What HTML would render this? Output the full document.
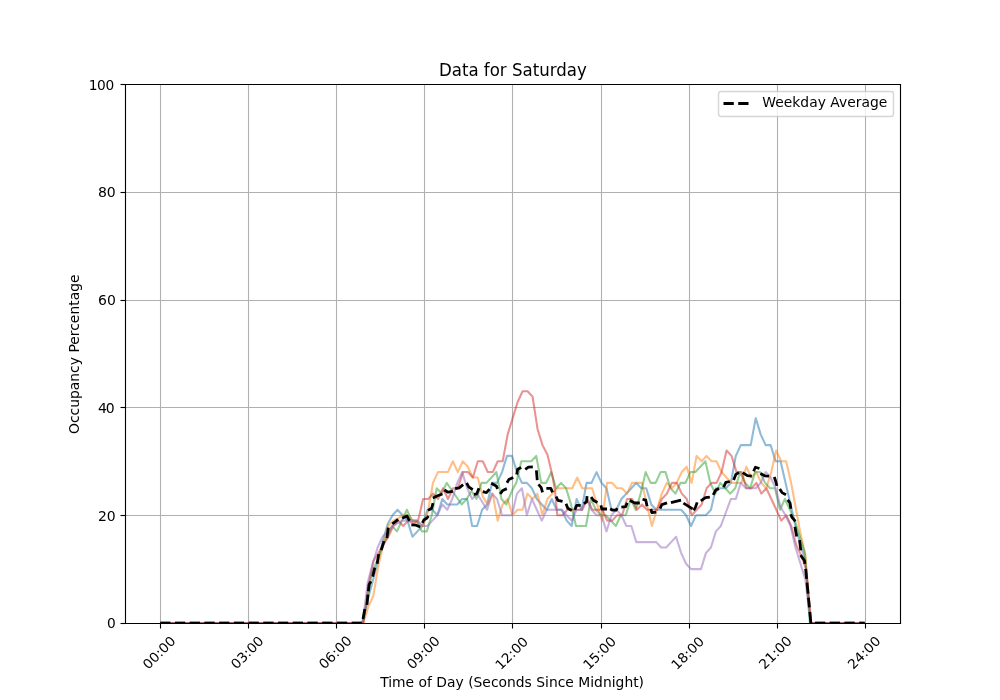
<!DOCTYPE html>
<html lang="en"><head><meta charset="utf-8"><title>Data for Saturday</title>
<style>html,body{margin:0;padding:0;background:#fff;overflow:hidden}svg{display:block}</style>
</head><body>
<svg width="1000" height="700" viewBox="0 0 1000 700">
<defs><clipPath id="ax"><rect x="125" y="84" width="775" height="539"/></clipPath></defs>
<rect width="1000" height="700" fill="#fff"/>
<g stroke="#b0b0b0" stroke-width="1.111" fill="none">
<path d="M160.5 623V84"/>
<path d="M248.5 623V84"/>
<path d="M336.5 623V84"/>
<path d="M424.5 623V84"/>
<path d="M512.5 623V84"/>
<path d="M601.5 623V84"/>
<path d="M689.5 623V84"/>
<path d="M777.5 623V84"/>
<path d="M865.5 623V84"/>
<path d="M125 623.5H900"/>
<path d="M125 515.5H900"/>
<path d="M125 407.5H900"/>
<path d="M125 300.5H900"/>
<path d="M125 192.5H900"/>
<path d="M125 84.5H900"/>
</g>
<g stroke="#000" stroke-width="1.111" fill="none">
<path d="M160.5 623.5v5"/>
<path d="M248.5 623.5v5"/>
<path d="M336.5 623.5v5"/>
<path d="M424.5 623.5v5"/>
<path d="M512.5 623.5v5"/>
<path d="M601.5 623.5v5"/>
<path d="M689.5 623.5v5"/>
<path d="M777.5 623.5v5"/>
<path d="M865.5 623.5v5"/>
<path d="M125.5 623.5h-5"/>
<path d="M125.5 515.5h-5"/>
<path d="M125.5 407.5h-5"/>
<path d="M125.5 300.5h-5"/>
<path d="M125.5 192.5h-5"/>
<path d="M125.5 84.5h-5"/>
</g>
<g font-family="DejaVu Sans, Liberation Sans, sans-serif" fill="#000">
<text id="xt0" transform="translate(148.29 669.99) rotate(-45) scale(1.0025 0.9550)" font-size="13.889" text-anchor="start">00:00</text>
<text id="xt1" transform="translate(236.48 669.86) rotate(-45) scale(0.9925 0.9650)" font-size="13.889" text-anchor="start">03:00</text>
<text id="xt2" transform="translate(324.42 669.86) rotate(-45) scale(0.9975 0.9700)" font-size="13.889" text-anchor="start">06:00</text>
<text id="xt3" transform="translate(412.49 669.99) rotate(-45) scale(1.0025 0.9650)" font-size="13.889" text-anchor="start">09:00</text>
<text id="xt4" transform="translate(500.75 670.55) rotate(-45) scale(0.9950 0.9525)" font-size="13.889" text-anchor="start">12:00</text>
<text id="xt5" transform="translate(588.75 670.49) rotate(-45) scale(1.0000 0.9700)" font-size="13.889" text-anchor="start">15:00</text>
<text id="xt6" transform="translate(676.69 670.61) rotate(-45) scale(1.0050 0.9550)" font-size="13.889" text-anchor="start" letter-spacing="-0.050">18:00</text>
<text id="xt7" transform="translate(764.51 669.99) rotate(-45) scale(1.0025 0.9650)" font-size="13.889" text-anchor="start">21:00</text>
<text id="xt8" transform="translate(853.33 669.99) rotate(-45) scale(1.0000 0.9525)" font-size="13.889" text-anchor="start">24:00</text>
<text id="yt0" transform="translate(115.78 627.78) scale(0.9900 0.9825)" font-size="13.889" text-anchor="end">0</text>
<text id="yt1" transform="translate(115.78 520.98) scale(1.0075 1.0350)" font-size="13.889" text-anchor="end">20</text>
<text id="yt2" transform="translate(113.78 412.68) scale(1.0100 1.0150)" font-size="13.889" text-anchor="end" letter-spacing="-1.000">40</text>
<text id="yt3" transform="translate(115.78 304.88) scale(1.0075 0.9550)" font-size="13.889" text-anchor="end">60</text>
<text id="yt4" transform="translate(115.78 196.58) scale(1.0125 1.0300)" font-size="13.889" text-anchor="end">80</text>
<text id="yt5" transform="translate(113.78 89.53) scale(0.9900 1.0300)" font-size="13.889" text-anchor="end" letter-spacing="-0.400">100</text>
<text id="xlabel" transform="translate(512.09 686.64) scale(1.0000 0.9975)" font-size="13.889" text-anchor="middle">Time of Day (Seconds Since Midnight)</text>
<text id="ylabel" transform="translate(78.82 354.25) rotate(-90) scale(1.0000 1.0075)" font-size="13.889" text-anchor="middle">Occupancy Percentage</text>
</g>
<g clip-path="url(#ax)" fill="none" stroke-linejoin="round">
<path d="M160.23 623.00 L362.72 623.00 L367.69 599.82 L372.67 581.50 L377.64 562.09 L382.62 542.15 L387.59 524.36 L392.57 515.20 L397.54 509.81 L402.52 515.20 L407.49 520.59 L412.47 536.76 L417.44 531.37 L422.41 525.98 L427.39 509.81 L432.36 509.81 L437.34 515.20 L442.31 499.03 L447.29 504.42 L452.26 504.42 L457.24 504.42 L462.21 499.03 L467.18 499.03 L472.16 525.98 L477.13 525.98 L482.11 509.81 L487.08 504.42 L492.06 482.86 L497.03 482.86 L502.01 472.08 L506.98 455.91 L511.96 455.91 L516.93 472.08 L521.90 482.86 L526.88 482.86 L531.85 488.25 L536.83 499.03 L541.80 504.42 L546.78 509.81 L551.75 499.03 L556.73 509.81 L561.70 509.81 L566.67 520.59 L571.65 525.98 L576.62 499.03 L581.60 509.81 L586.57 482.86 L591.55 482.86 L596.52 472.08 L601.50 482.86 L606.47 488.25 L611.45 509.81 L616.42 509.81 L621.39 499.03 L626.37 493.64 L631.34 488.25 L636.32 482.86 L641.29 488.25 L646.27 488.25 L651.24 504.42 L656.22 509.81 L661.19 509.81 L666.16 509.81 L671.14 509.81 L676.11 509.81 L681.09 509.81 L686.06 515.20 L691.04 525.98 L696.01 515.20 L700.99 515.20 L705.96 515.20 L710.93 509.81 L715.91 488.25 L720.88 488.25 L725.86 488.25 L730.83 482.86 L735.81 455.91 L740.78 445.13 L745.76 445.13 L750.73 445.13 L755.71 418.18 L760.68 434.35 L765.65 445.13 L770.63 445.13 L775.60 461.30 L780.58 461.30 L785.55 482.86 L790.53 504.42 L795.50 525.98 L800.48 544.85 L805.45 561.01 L810.42 623.00 L864.77 623.00" stroke="#1f77b4" stroke-opacity="0.5" stroke-width="2.083"/>
<path d="M160.23 623.00 L363.32 623.00 L368.29 606.83 L373.27 596.05 L378.24 566.40 L383.22 544.85 L388.19 525.98 L393.17 520.59 L398.14 518.43 L403.12 515.20 L408.09 515.20 L413.06 520.59 L418.04 522.75 L423.01 525.98 L427.99 511.43 L432.96 482.86 L437.94 472.08 L442.91 472.08 L447.89 472.08 L452.86 461.30 L457.84 472.08 L462.81 461.30 L467.78 466.69 L472.76 477.47 L477.73 477.47 L482.71 496.34 L487.68 504.42 L492.66 493.64 L497.63 520.59 L502.61 504.42 L507.58 499.03 L512.55 515.20 L517.53 509.81 L522.50 509.81 L527.48 493.64 L532.45 499.03 L537.43 493.64 L542.40 515.20 L547.38 499.03 L552.35 493.64 L557.33 488.25 L562.30 488.25 L567.27 488.25 L572.25 488.25 L577.22 477.47 L582.20 488.25 L587.17 488.25 L592.15 488.25 L597.12 504.42 L602.10 520.59 L607.07 482.86 L612.04 482.86 L617.02 488.25 L621.99 488.25 L626.97 493.64 L631.94 482.86 L636.92 482.86 L641.89 482.86 L646.87 504.42 L651.84 525.98 L656.82 509.81 L661.79 493.64 L666.76 482.86 L671.74 488.25 L676.71 482.86 L681.69 472.08 L686.66 466.69 L691.64 482.86 L696.61 455.91 L701.59 461.30 L706.56 455.91 L711.53 461.30 L716.51 461.30 L721.48 472.08 L726.46 477.47 L731.43 482.86 L736.41 482.86 L741.38 482.86 L746.36 466.69 L751.33 477.47 L756.31 472.08 L761.28 482.86 L766.25 488.25 L771.23 472.08 L776.20 450.52 L781.18 461.30 L786.15 461.30 L791.13 482.86 L796.10 509.81 L800.58 534.07 L805.45 555.62 L810.73 623.00 L864.77 623.00" stroke="#ff7f0e" stroke-opacity="0.5" stroke-width="2.083"/>
<path d="M160.23 623.00 L362.12 623.00 L367.09 601.44 L372.07 571.79 L377.04 561.01 L382.02 547.54 L386.99 536.76 L391.97 525.98 L396.94 531.37 L401.92 520.59 L406.89 509.81 L411.87 520.59 L416.84 520.59 L421.81 531.37 L426.79 531.37 L431.76 515.20 L436.74 488.25 L441.71 493.64 L446.69 482.86 L451.66 490.03 L456.64 497.25 L461.61 504.42 L466.58 499.03 L471.56 490.95 L476.53 499.03 L481.51 482.86 L486.48 482.86 L491.46 477.47 L496.43 472.08 L501.41 499.03 L506.38 504.42 L512.36 489.87 L516.33 482.86 L521.30 461.30 L526.28 461.30 L531.25 461.30 L536.23 455.91 L541.20 482.86 L546.18 482.86 L551.15 472.08 L556.13 488.25 L561.10 482.86 L566.07 488.25 L571.05 504.42 L576.02 525.98 L581.00 525.98 L585.97 525.98 L590.95 499.03 L595.92 509.81 L600.90 515.20 L605.87 515.20 L610.85 520.59 L615.82 525.98 L620.79 515.20 L625.77 515.20 L630.74 499.03 L635.72 509.81 L640.69 493.64 L645.67 472.08 L650.64 482.86 L655.62 482.86 L660.59 472.08 L665.56 472.08 L670.54 488.25 L675.51 493.64 L680.49 482.86 L685.46 482.86 L690.44 472.08 L695.41 472.08 L700.39 466.69 L705.36 461.30 L710.34 482.86 L715.31 493.64 L720.28 482.86 L725.26 488.25 L730.23 493.64 L735.21 488.25 L740.18 472.08 L745.16 482.86 L750.13 488.25 L755.11 472.08 L760.08 472.08 L765.05 482.86 L770.03 488.25 L775.00 488.25 L779.98 509.81 L784.95 499.03 L789.93 509.81 L794.90 520.59 L799.88 536.76 L804.85 552.93 L809.83 623.00 L864.77 623.00" stroke="#2ca02c" stroke-opacity="0.5" stroke-width="2.083"/>
<path d="M160.23 623.00 L363.42 623.00 L368.39 585.27 L373.37 561.01 L378.34 552.93 L383.32 544.85 L388.29 536.76 L393.27 525.98 L398.24 520.59 L403.22 525.98 L408.19 520.59 L413.17 523.28 L418.14 520.59 L423.11 499.03 L428.09 499.03 L433.06 493.64 L438.04 499.03 L443.01 488.25 L447.99 499.03 L452.96 488.25 L457.94 488.25 L462.91 472.08 L467.88 472.08 L472.86 477.47 L477.83 461.30 L482.81 461.30 L487.78 472.08 L492.76 472.08 L497.73 461.30 L502.71 461.30 L507.68 434.35 L512.65 418.18 L517.63 402.01 L522.60 391.23 L527.58 391.23 L532.55 396.62 L537.53 428.96 L542.50 445.13 L547.48 454.83 L552.45 475.85 L555.10 491.48 L557.23 515.20 L562.40 515.20 L567.37 509.81 L572.35 509.81 L577.32 509.81 L582.30 509.81 L587.27 499.03 L592.25 509.81 L597.22 509.81 L602.20 509.81 L607.17 520.59 L612.14 520.59 L617.12 515.20 L622.09 515.20 L627.07 499.03 L632.04 499.03 L637.02 509.81 L641.99 504.42 L646.97 509.81 L651.94 509.81 L656.92 509.81 L661.89 499.03 L666.86 493.64 L671.84 482.86 L676.81 482.86 L681.79 493.64 L686.76 499.03 L691.74 515.20 L696.71 509.81 L701.69 504.42 L706.66 488.25 L711.63 482.86 L716.61 482.86 L721.58 472.08 L726.56 450.52 L731.53 455.91 L736.51 472.08 L741.48 472.08 L746.46 488.25 L751.43 488.25 L756.41 482.86 L761.38 493.64 L766.35 488.25 L771.33 499.03 L776.30 509.81 L781.28 520.59 L786.25 515.20 L791.23 525.98 L796.20 544.85 L801.18 555.62 L806.15 569.10 L811.12 623.00 L864.77 623.00" stroke="#d62728" stroke-opacity="0.5" stroke-width="2.083"/>
<path d="M160.23 623.00 L362.72 623.00 L367.69 582.58 L372.67 563.71 L377.64 547.54 L382.62 536.76 L387.59 531.37 L392.57 525.98 L397.54 523.28 L402.52 520.59 L407.49 520.59 L412.47 520.59 L417.44 520.59 L422.41 525.98 L427.39 525.98 L432.36 520.59 L437.34 515.20 L442.31 504.42 L447.29 509.81 L452.26 499.03 L457.24 482.86 L462.21 472.08 L467.18 488.25 L472.16 499.03 L477.13 493.64 L482.11 501.73 L487.08 509.81 L492.06 493.64 L497.03 499.03 L502.01 515.20 L506.98 515.20 L511.96 515.20 L516.93 493.64 L521.90 488.25 L526.88 515.20 L531.85 499.03 L536.83 509.81 L541.80 520.59 L546.78 509.81 L551.75 509.81 L556.73 509.81 L561.70 509.81 L566.67 515.20 L571.65 520.59 L576.62 509.81 L581.60 509.81 L586.57 499.03 L591.55 509.81 L596.52 515.20 L601.50 515.20 L606.47 531.37 L611.45 515.20 L616.42 509.81 L621.39 515.20 L626.37 525.98 L631.34 525.98 L636.32 542.15 L641.29 542.15 L646.27 542.15 L651.24 542.15 L656.22 542.15 L661.19 547.54 L666.16 547.54 L671.14 542.15 L676.11 536.76 L681.09 552.93 L686.06 563.71 L691.04 569.10 L696.01 569.10 L700.99 569.10 L705.96 552.93 L710.93 547.54 L715.91 531.37 L720.88 525.98 L725.86 512.50 L730.83 499.03 L735.81 499.03 L740.78 482.86 L745.76 488.25 L750.73 488.25 L755.71 488.25 L760.68 482.86 L765.65 472.08 L770.63 477.47 L775.60 488.25 L780.58 507.12 L785.55 515.20 L790.53 525.98 L795.50 547.54 L800.48 563.71 L805.45 579.88 L810.42 623.00 L864.77 623.00" stroke="#9467bd" stroke-opacity="0.5" stroke-width="2.083"/>
<path d="M160.23 623.00 L170.50 623.00" stroke="#000" stroke-width="2.778"/>
<path d="M174.95 623.00 L185.23 623.00" stroke="#000" stroke-width="2.778"/>
<path d="M189.67 623.00 L199.95 623.00" stroke="#000" stroke-width="2.778"/>
<path d="M204.39 623.00 L214.67 623.00" stroke="#000" stroke-width="2.778"/>
<path d="M219.12 623.00 L229.39 623.00" stroke="#000" stroke-width="2.778"/>
<path d="M233.84 623.00 L244.11 623.00" stroke="#000" stroke-width="2.778"/>
<path d="M248.56 623.00 L258.84 623.00" stroke="#000" stroke-width="2.778"/>
<path d="M263.28 623.00 L273.56 623.00" stroke="#000" stroke-width="2.778"/>
<path d="M278.00 623.00 L288.28 623.00" stroke="#000" stroke-width="2.778"/>
<path d="M292.73 623.00 L303.00 623.00" stroke="#000" stroke-width="2.778"/>
<path d="M307.45 623.00 L317.73 623.00" stroke="#000" stroke-width="2.778"/>
<path d="M322.17 623.00 L332.45 623.00" stroke="#000" stroke-width="2.778"/>
<path d="M336.89 623.00 L347.17 623.00" stroke="#000" stroke-width="2.778"/>
<path d="M351.61 623.00 L361.89 623.00" stroke="#000" stroke-width="2.778"/>
<path d="M363.02 618.94 L364.83 609.06" stroke="#000" stroke-width="2.778"/>
<path d="M366.96 604.95 L367.89 594.55" stroke="#000" stroke-width="2.778"/>
<path d="M368.35 591.25 L369.10 584.50 L370.98 581.36" stroke="#000" stroke-width="2.778"/>
<path d="M372.64 576.69 L374.86 567.56" stroke="#000" stroke-width="2.778"/>
<path d="M377.18 563.69 L378.67 554.16" stroke="#000" stroke-width="2.778"/>
<path d="M381.27 550.03 L383.93 541.17" stroke="#000" stroke-width="2.778"/>
<path d="M386.94 538.05 L388.26 527.55" stroke="#000" stroke-width="2.778"/>
<path d="M392.23 523.86 L395.40 521.60 L398.15 519.31" stroke="#000" stroke-width="2.778"/>
<path d="M402.19 518.19 L407.00 516.00 L408.60 519.20 L409.65 520.77" stroke="#000" stroke-width="2.778"/>
<path d="M411.35 524.76 L416.20 525.20 L420.21 526.98" stroke="#000" stroke-width="2.778"/>
<path d="M422.40 522.80 L423.80 520.00 L427.00 518.00 L428.47 516.04" stroke="#000" stroke-width="2.778"/>
<path d="M428.01 510.43 L431.60 508.30 L433.02 503.07" stroke="#000" stroke-width="2.778"/>
<path d="M432.79 497.99 L437.60 495.80 L442.42 494.05" stroke="#000" stroke-width="2.778"/>
<path d="M444.42 489.96 L448.00 492.20 L452.84 491.32" stroke="#000" stroke-width="2.778"/>
<path d="M455.16 488.70 L459.20 487.80 L463.16 484.72" stroke="#000" stroke-width="2.778"/>
<path d="M466.58 483.01 L468.80 487.00 L472.77 489.65" stroke="#000" stroke-width="2.778"/>
<path d="M473.96 494.27 L476.80 493.80 L478.96 488.18" stroke="#000" stroke-width="2.778"/>
<path d="M482.76 491.69 L486.40 492.60 L489.50 489.06" stroke="#000" stroke-width="2.778"/>
<path d="M491.20 483.29 L496.20 485.90 L497.59 488.91" stroke="#000" stroke-width="2.778"/>
<path d="M500.13 493.96 L502.80 490.40 L506.81 488.62" stroke="#000" stroke-width="2.778"/>
<path d="M506.98 482.79 L508.80 479.60 L513.20 477.40" stroke="#000" stroke-width="2.778"/>
<path d="M516.73 474.44 L517.60 469.20 L521.20 467.40" stroke="#000" stroke-width="2.778"/>
<path d="M525.23 469.46 L528.40 467.20 L532.85 466.76" stroke="#000" stroke-width="2.778"/>
<path d="M536.36 470.35 L537.24 480.05" stroke="#000" stroke-width="2.778"/>
<path d="M538.51 484.46 L541.20 487.60 L542.52 492.43" stroke="#000" stroke-width="2.778"/>
<path d="M546.35 488.40 L550.80 488.40 L552.58 492.41" stroke="#000" stroke-width="2.778"/>
<path d="M556.11 496.49 L557.90 500.30 L562.54 501.40" stroke="#000" stroke-width="2.778"/>
<path d="M566.03 503.78 L567.80 508.20 L571.79 510.42" stroke="#000" stroke-width="2.778"/>
<path d="M574.83 509.82 L576.60 505.40 L580.65 505.40" stroke="#000" stroke-width="2.778"/>
<path d="M583.83 503.65 L586.60 501.80 L587.03 496.15" stroke="#000" stroke-width="2.778"/>
<path d="M591.14 497.03 L593.40 500.20 L597.39 502.42" stroke="#000" stroke-width="2.778"/>
<path d="M600.89 505.36 L601.80 509.00 L607.05 509.00" stroke="#000" stroke-width="2.778"/>
<path d="M610.21 508.77 L612.60 510.20 L616.20 510.20 L617.20 508.20" stroke="#000" stroke-width="2.778"/>
<path d="M621.35 507.04 L625.80 506.60 L627.15 502.78" stroke="#000" stroke-width="2.778"/>
<path d="M629.79 500.61 L634.80 503.00 L639.85 503.00" stroke="#000" stroke-width="2.778"/>
<path d="M642.57 499.28 L645.80 500.20 L647.09 506.24" stroke="#000" stroke-width="2.778"/>
<path d="M650.89 508.96 L651.80 512.60 L656.25 512.16" stroke="#000" stroke-width="2.778"/>
<path d="M660.02 508.61 L661.80 504.60 L667.03 502.86" stroke="#000" stroke-width="2.778"/>
<path d="M670.96 502.71 L681.04 500.09" stroke="#000" stroke-width="2.778"/>
<path d="M683.42 503.16 L692.58 508.84" stroke="#000" stroke-width="2.778"/>
<path d="M693.68 510.39 L695.40 507.40 L697.15 502.37" stroke="#000" stroke-width="2.778"/>
<path d="M700.83 500.96 L705.50 497.70 L709.85 497.14" stroke="#000" stroke-width="2.778"/>
<path d="M713.18 494.80 L715.80 490.00 L719.01 488.62" stroke="#000" stroke-width="2.778"/>
<path d="M723.61 487.21 L725.80 482.40 L729.84 481.50" stroke="#000" stroke-width="2.778"/>
<path d="M733.64 480.02 L735.80 474.40 L738.99 472.58" stroke="#000" stroke-width="2.778"/>
<path d="M742.62 472.56 L747.40 475.60 L751.85 476.04" stroke="#000" stroke-width="2.778"/>
<path d="M753.62 471.21 L755.40 467.20 L759.43 468.54" stroke="#000" stroke-width="2.778"/>
<path d="M760.40 473.49 L764.90 475.90 L768.95 476.12" stroke="#000" stroke-width="2.778"/>
<path d="M774.26 476.97 L775.60 481.00 L776.92 485.83" stroke="#000" stroke-width="2.778"/>
<path d="M779.76 489.02 L782.00 492.60 L785.99 494.82" stroke="#000" stroke-width="2.778"/>
<path d="M787.74 499.83 L790.00 503.00 L790.87 508.74" stroke="#000" stroke-width="2.778"/>
<path d="M790.62 514.29 L792.00 517.40 L795.39 521.34" stroke="#000" stroke-width="2.778"/>
<path d="M794.92 526.81 L796.68 536.44" stroke="#000" stroke-width="2.778"/>
<path d="M799.55 540.05 L800.80 550.45" stroke="#000" stroke-width="2.778"/>
<path d="M800.48 555.14 L804.50 560.50 L804.79 563.95" stroke="#000" stroke-width="2.778"/>
<path d="M805.60 568.80 L806.60 578.95" stroke="#000" stroke-width="2.778"/>
<path d="M806.99 582.55 L808.08 593.65" stroke="#000" stroke-width="2.778"/>
<path d="M808.46 597.55 L809.43 607.45" stroke="#000" stroke-width="2.778"/>
<path d="M809.86 611.95 L810.84 622.40 L810.90 623.00 L811.75 623.00" stroke="#000" stroke-width="2.778"/>
<path d="M815.00 623.00 L825.30 623.00" stroke="#000" stroke-width="2.778"/>
<path d="M829.70 623.00 L840.00 623.00" stroke="#000" stroke-width="2.778"/>
<path d="M844.40 623.00 L854.70 623.00" stroke="#000" stroke-width="2.778"/>
<path d="M859.20 623.00 L864.77 623.00" stroke="#000" stroke-width="2.778"/>
</g>
<g stroke="#000" stroke-width="1.111" fill="none" stroke-linecap="square">
<path d="M125.5 623.5V84.5"/><path d="M900.5 623.5V84.5"/><path d="M125.5 623.5H900.5"/><path d="M125.5 84.5H900.5"/>
</g>
<g font-family="DejaVu Sans, Liberation Sans, sans-serif" fill="#000"><text id="title" transform="translate(512.88 75.67) scale(0.9975 1.0750)" font-size="16.667" text-anchor="middle">Data for Saturday</text></g>
<path d="M721.28 116.50H890.72Q893.50 116.50 893.50 113.72V94.28Q893.50 91.50 890.72 91.50H721.28Q718.50 91.50 718.50 94.28V113.72Q718.50 116.50 721.28 116.50Z" fill="#fff" stroke="#ccc" stroke-width="1.389" opacity="0.8"/>
<path d="M723.5 103.5H751.28" stroke="#000" stroke-width="2.778" stroke-dasharray="10.278 4.444" fill="none"/>
<g font-family="DejaVu Sans, Liberation Sans, sans-serif" fill="#000"><text id="legend" transform="translate(762.33 106.55) scale(1.0000 0.9700)" font-size="13.889" text-anchor="start">Weekday Average</text></g>
</svg>
</body></html>
